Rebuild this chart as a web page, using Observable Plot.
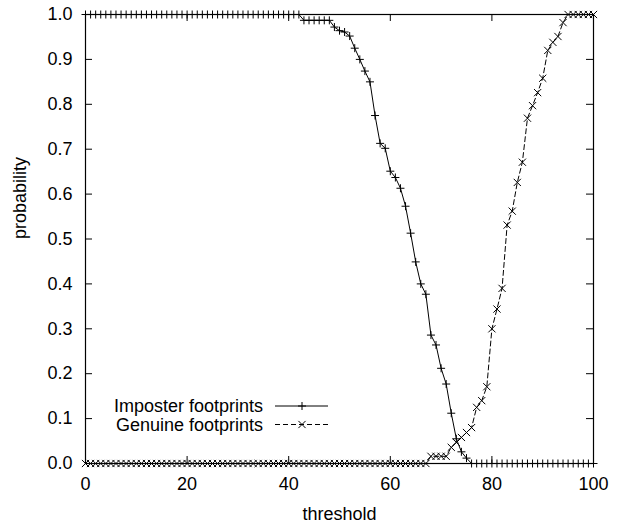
<!DOCTYPE html>
<html><head><meta charset="utf-8">
<script src="https://cdn.jsdelivr.net/npm/d3@7"></script>
<script src="https://cdn.jsdelivr.net/npm/@observablehq/plot@0.6"></script>
<style>
html,body{margin:0;padding:0;background:#fff;}
</style>
</head><body><div id="chart"></div>
<script>
// ---- data ----
const thresholds = [0,1,2,3,4,5,6,7,8,9,10,11,12,13,14,15,16,17,18,19,20,21,22,23,24,25,26,27,28,29,30,31,32,33,34,35,36,37,38,39,40,41,42,43,44,45,46,47,48,49,50,51,52,53,54,55,56,57,58,59,60,61,62,63,64,65,66,67,68,69,70,71,72,73,74,75,76,77,78,79,80,81,82,83,84,85,86,87,88,89,90,91,92,93,94,95,96,97,98,99,100];
const imposter = [
  1,1,1,1,1,1,1,1,1,1,
  1,1,1,1,1,1,1,1,1,1,
  1,1,1,1,1,1,1,1,1,1,
  1,1,1,1,1,1,1,1,1,1,
  1,1,1,0.987,0.987,0.987,0.987,0.987,0.987,0.972,
  0.964,0.961,0.952,0.925,0.900,0.874,0.850,0.775,0.713,0.702,
  0.651,0.637,0.613,0.573,0.513,0.449,0.400,0.377,0.286,0.264,
  0.212,0.177,0.112,0.055,0.026,0.012,0,0,0,0,
  0,0,0,0,0,0,0,0,0,0,
  0,0,0,0,0,0,0,0,0,0,
  0
];
const genuine = [
  0,0,0,0,0,0,0,0,0,0,
  0,0,0,0,0,0,0,0,0,0,
  0,0,0,0,0,0,0,0,0,0,
  0,0,0,0,0,0,0,0,0,0,
  0,0,0,0,0,0,0,0,0,0,
  0,0,0,0,0,0,0,0,0,0,
  0,0,0,0,0,0,0,0,0.016,0.016,
  0.016,0.016,0.036,0.047,0.058,0.069,0.080,0.125,0.140,0.171,
  0.300,0.344,0.390,0.531,0.562,0.626,0.671,0.769,0.797,0.826,
  0.858,0.920,0.938,0.951,0.982,1,1,1,1,1,
  1
];
const xTicks = [0,20,40,60,80,100];
const yTicks = [0,0.1,0.2,0.3,0.4,0.5,0.6,0.7,0.8,0.9,1.0];
const seriesNames = ["Imposter footprints","Genuine footprints"];
const xLabel = "threshold";
const yLabel = "probability";

// ---- layout ----
const W = 621, H = 529, mL = 85, mR = 28, mT = 14, mB = 66;
const pw = W - mL - mR, ph = H - mT - mB;
const tickLen = 7;
const FONT = "'Liberation Sans', Arial, Helvetica, sans-serif";
const FS = "18px";

const plusSymbol = {draw(ctx, size){const h = Math.sqrt(size/Math.PI); ctx.moveTo(-h,0); ctx.lineTo(h,0); ctx.moveTo(0,-h); ctx.lineTo(0,h);}};
const timesSymbol = {draw(ctx, size){const h = Math.sqrt(size/Math.PI)*0.9; ctx.moveTo(-h,-h); ctx.lineTo(h,h); ctx.moveTo(-h,h); ctx.lineTo(h,-h);}};

const impData = thresholds.map((t,i)=>({t, p: imposter[i]}));
const genData = thresholds.map((t,i)=>({t, p: genuine[i]}));
const DASH = "5,3";

const chart = Plot.plot({
  width: W, height: H,
  marginLeft: mL, marginRight: mR, marginTop: mT, marginBottom: mB,
  style: {fontFamily: FONT, fontSize: FS, color: "black", background: "white"},
  x: {domain: [0,100]},
  y: {domain: [0,1]},
  marks: [
    Plot.tickY(yTicks, {y: d=>d, insetRight: pw - tickLen, stroke: "black"}),
    Plot.tickY(yTicks, {y: d=>d, insetLeft: pw - tickLen, stroke: "black"}),
    Plot.tickX(xTicks, {x: d=>d, insetTop: ph - tickLen, stroke: "black"}),
    Plot.tickX(xTicks, {x: d=>d, insetBottom: ph - tickLen, stroke: "black"}),
    Plot.line(impData, {x: "t", y: "p", stroke: "black", strokeWidth: 1}),
    Plot.line(genData, {x: "t", y: "p", stroke: "black", strokeWidth: 1, strokeDasharray: DASH}),
    Plot.dot(impData, {x: "t", y: "p", symbol: plusSymbol, r: 4, stroke: "black", fill: "none", strokeWidth: 1}),
    Plot.dot(genData, {x: "t", y: "p", symbol: timesSymbol, r: 4, stroke: "black", fill: "none", strokeWidth: 1}),
    Plot.frame({stroke: "black", strokeWidth: 1.2}),
    Plot.axisY(yTicks, {tickSize: 0, tickPadding: 13, tickFormat: d3.format(".1f"), label: null, fill: "black"}),
    Plot.axisX(xTicks, {tickSize: 0, tickPadding: 14, tickFormat: d3.format("d"), label: null, fill: "black"}),
    Plot.text([xLabel], {text: d=>d, frameAnchor: "bottom", dy: 51, lineAnchor: "middle", fill: "black"}),
    Plot.text([yLabel], {text: d=>d, frameAnchor: "left", dx: -65, rotate: -90, lineAnchor: "middle", fill: "black"})
  ]
});
document.getElementById("chart").appendChild(chart);

// ---- legend (inside the frame, bottom-left) ----
const svg = d3.select(chart);
const lg = svg.append("g").attr("font-family", FONT).attr("font-size", FS);
const rows = [
  {name: seriesNames[0], y: 406, dash: null, sym: plusSymbol},
  {name: seriesNames[1], y: 424.5, dash: DASH, sym: timesSymbol}
];
const textEnd = mL + 178, lx1 = mL + 190, lx2 = mL + 243, mx = mL + 217;
rows.forEach(r => {
  lg.append("text").attr("x", textEnd).attr("y", r.y).attr("dy", "0.35em")
    .attr("text-anchor", "end").attr("fill", "black").text(r.name);
  lg.append("line").attr("x1", lx1).attr("x2", lx2).attr("y1", r.y).attr("y2", r.y)
    .attr("stroke", "black").attr("stroke-width", 1).attr("stroke-dasharray", r.dash);
  lg.append("path").attr("transform", `translate(${mx},${r.y})`)
    .attr("d", d3.symbol(r.sym, 16*Math.PI)()).attr("stroke", "black").attr("fill", "none");
});
</script>
</body></html>
